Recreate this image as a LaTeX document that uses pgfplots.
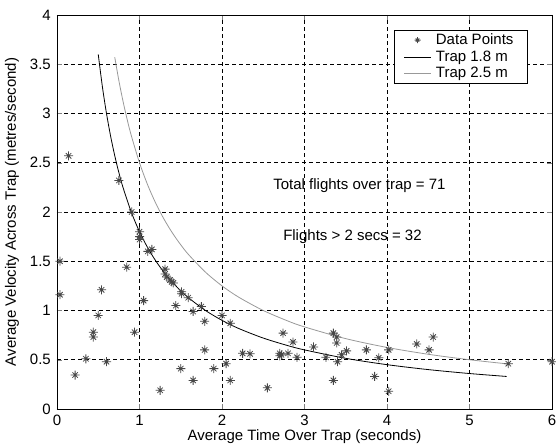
\documentclass[border=0pt]{standalone}
\usepackage{fontspec}
\setmainfont{Liberation Sans}
\usepackage{pgfplots}
\pgfplotsset{compat=1.18}
\definecolor{ptgray}{gray}{0.28}
\definecolor{curvegray}{gray}{0.6}
\pgfdeclareplotmark{mstar}{%
  \pgfpathmoveto{\pgfqpoint{-\pgfplotmarksize}{0pt}}\pgfpathlineto{\pgfqpoint{\pgfplotmarksize}{0pt}}%
  \pgfpathmoveto{\pgfqpoint{0pt}{-\pgfplotmarksize}}\pgfpathlineto{\pgfqpoint{0pt}{\pgfplotmarksize}}%
  \pgfpathmoveto{\pgfqpoint{-.6\pgfplotmarksize}{-.6\pgfplotmarksize}}\pgfpathlineto{\pgfqpoint{.6\pgfplotmarksize}{.6\pgfplotmarksize}}%
  \pgfpathmoveto{\pgfqpoint{-.6\pgfplotmarksize}{.6\pgfplotmarksize}}\pgfpathlineto{\pgfqpoint{.6\pgfplotmarksize}{-.6\pgfplotmarksize}}%
  \pgfusepathqstroke}
\begin{document}
\fontsize{15}{17}\selectfont
\begin{tikzpicture}
\begin{axis}[
  scale only axis,
  width=495pt, height=394pt,
  xmin=0, xmax=6, ymin=0, ymax=4,
  xtick={0,1,2,3,4,5,6},
  ytick={0,0.5,1,1.5,2,2.5,3,3.5,4},
  yticklabels={0,0.5,1,1.5,2,2.5,3,3.5,4},
  xticklabels={0,1,2,3,4,5,6},
  tick align=inside,
  major tick length=5pt,
  axis line style={black, line width=0.6pt},
  grid=major,
  major grid style={black, dash pattern=on 4pt off 3pt, line width=0.6pt},
  font=\fontsize{15}{17}\selectfont,
  xticklabel style={yshift=-1pt},
  yticklabel style={xshift=-1pt},
  xlabel={Average Time Over Trap (seconds)},
  ylabel={Average Velocity Across Trap (metres/second)},
  xlabel style={at={(axis description cs:0.5,-0.071)}, anchor=center},
  ylabel style={at={(axis description cs:-0.0909,0.5)}, anchor=center},
  legend style={at={(axis cs:5.70,3.85)}, anchor=north east, draw=black, fill=white,
    line width=0.6pt, font=\fontsize{15}{17}\selectfont, inner xsep=9pt, inner ysep=1.5pt,
    row sep=0pt, cells={anchor=west}, nodes={inner xsep=4.5pt}},
  legend image code/.code={\draw[mark repeat=2,mark phase=2,#1] plot coordinates {(0pt,0pt) (13.5pt,0pt) (27pt,0pt)};},
]
\addplot[only marks, mark=mstar, mark size=4.5pt, draw=ptgray, line width=0.8pt,
  every legend image post/.style={mark size=3pt}] coordinates {
(0.14,2.57) (0.75,2.32) (0.905,2.00) (1.0,1.80) (1.0,1.75) (1.0,1.72)
(1.10,1.60) (1.15,1.62) (0.036,1.50) (0.845,1.44) (1.31,1.42) (1.31,1.37)
(1.33,1.34) (1.37,1.31) (1.39,1.29) (1.41,1.28) (1.51,1.19) (1.51,1.17)
(1.59,1.13) (0.036,1.16) (0.54,1.21) (1.05,1.10) (1.44,1.05) (1.65,0.99)
(1.75,1.04) (0.50,0.95) (1.79,0.89) (0.44,0.78) (0.44,0.73) (0.94,0.78)
(1.79,0.60) (0.35,0.51) (0.60,0.48) (1.50,0.41) (1.90,0.41) (0.22,0.345)
(1.65,0.29) (1.25,0.19) (2.0,0.95) (2.10,0.87) (2.74,0.77) (2.86,0.68)
(3.11,0.63) (2.25,0.565) (2.34,0.56) (2.70,0.565) (2.70,0.54) (2.72,0.55)
(2.80,0.565) (2.91,0.525) (2.05,0.46) (2.10,0.29) (2.55,0.215) (3.35,0.77)
(3.39,0.73) (3.39,0.67) (3.26,0.525) (3.40,0.48) (3.45,0.55) (3.51,0.59)
(3.75,0.60) (3.90,0.52) (3.85,0.33) (3.35,0.29) (4.02,0.60) (4.02,0.18)
(4.36,0.66) (4.56,0.73) (4.51,0.60) (5.47,0.46) (6.0,0.48)
};
\addlegendentry{Data Points}
\addplot[black, line width=0.8pt, smooth] coordinates {
(0.5,3.6) (0.55,3.2727) (0.6,3.0) (0.65,2.7692) (0.7,2.5714) (0.75,2.4)
(0.8,2.25) (0.9,2.0) (1.0,1.8) (1.1,1.6364) (1.2,1.5) (1.3,1.3846)
(1.4,1.2857) (1.5,1.2) (1.6,1.125) (1.8,1.0) (2.0,0.9) (2.2,0.8182)
(2.5,0.72) (2.8,0.6429) (3.0,0.6) (3.5,0.5143) (4.0,0.45) (4.5,0.4)
(5.0,0.36) (5.45,0.3303)
};
\addlegendentry{Trap 1.8 m}
\addplot[curvegray, line width=0.8pt, smooth] coordinates {
(0.7,3.5714) (0.75,3.3333) (0.8,3.125) (0.85,2.9412) (0.9,2.7778) (1.0,2.5)
(1.1,2.2727) (1.2,2.0833) (1.3,1.9231) (1.4,1.7857) (1.5,1.6667) (1.6,1.5625)
(1.8,1.3889) (2.0,1.25) (2.2,1.1364) (2.5,1.0) (2.8,0.8929) (3.0,0.8333)
(3.5,0.7143) (4.0,0.625) (4.5,0.5556) (5.0,0.5) (5.45,0.4587)
};
\addlegendentry{Trap 2.5 m}
\node[anchor=west, inner sep=0pt] at (axis cs:2.62,2.27) {Total flights over trap = 71};
\node[anchor=west, inner sep=0pt] at (axis cs:2.74,1.75) {Flights > 2 secs = 32};
\end{axis}
\pgfresetboundingbox
\useasboundingbox ([xshift=-57pt,yshift=-38pt]current axis.south west) rectangle ([xshift=4pt,yshift=15pt]current axis.north east);
\end{tikzpicture}
\end{document}
